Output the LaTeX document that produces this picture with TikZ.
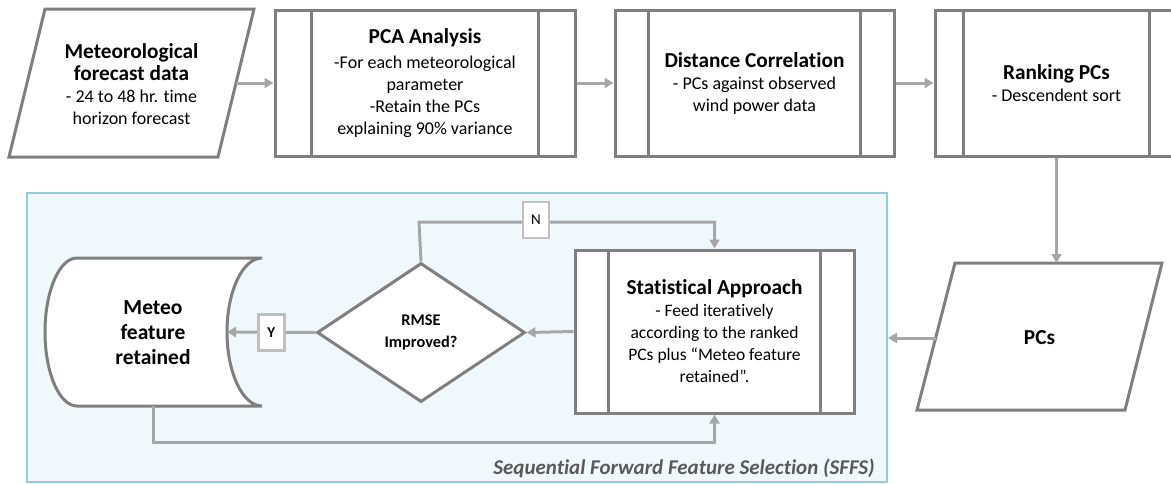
\documentclass[tikz,border=0pt]{standalone}
\usepackage{fontspec}
\setmainfont{Carlito}[Ligatures=NoCommon]
\usetikzlibrary{shapes.geometric,arrows.meta}

\definecolor{boxgray}{HTML}{7F7F7F}
\definecolor{linkgray}{HTML}{A6A6A6}
\definecolor{tagedge}{HTML}{BFBFBF}
\definecolor{sffsfill}{HTML}{F1F8FB}
\definecolor{sffsedge}{HTML}{92CDDC}
\definecolor{notegray}{HTML}{595959}

\newcommand{\ttl}[1]{{\bfseries\fontsize{21.3}{26}\selectfont #1}}

\begin{document}
\begin{tikzpicture}[x=1pt, y=-1pt,
  every node/.style={font=\fontsize{18}{22}\selectfont, align=center},
  outline/.style={draw=boxgray, line width=3pt, fill=white},
  proc/.style={outline, minimum height=146pt, inner sep=0pt},
  link/.style={draw=linkgray, line width=3pt, -{Triangle[length=9pt,width=10pt]}},
  tag/.style={draw=tagedge, line width=2.5pt, fill=white, minimum width=26pt, minimum height=36pt,
    inner sep=0pt, font=\fontsize{15}{18}\selectfont}]
\useasboundingbox (0,0) rectangle (1171,483);

% SFFS region
\node[draw=sffsedge, fill=sffsfill, line width=2pt, minimum width=860pt, minimum height=289pt, inner sep=0pt] (sffs) at (457,337.5) {};
\node[anchor=base east, inner sep=0pt, text=notegray, font=\bfseries\itshape\fontsize{21}{24}\selectfont] (cap) at (875,474) {Sequential Forward Feature Selection (SFFS)};

% Top row
\draw[outline] (45,9) -- (254,9) -- (218,157) -- (9,157) -- cycle;
\node (meteo) at (131.5,84) {\ttl{Meteorological}\\ \ttl{forecast data}\\ - 24 to 48 hr. time\\ horizon forecast};
\coordinate (meteoR) at (236,83);
\node[proc, minimum width=300pt] (pca) at (425,83) {\ttl{PCA Analysis}\\[3pt] -For each meteorological\\ parameter\\ -Retain the PCs\\ explaining 90\% variance};
\node[proc, minimum width=279pt] (dc) at (754.5,83) {\ttl{Distance Correlation}\\ - PCs against observed\\ wind power data};
\node[proc, minimum width=243pt] (rank) at (1056.5,83) {\ttl{Ranking PCs}\\ - Descendent sort};

% Bottom row
\draw[outline] (955,263) -- (1162,263) -- (1125,410) -- (917,410) -- cycle;
\node (pcs) at (1039.5,338) {\ttl{PCs}};
\coordinate (pcsL) at (936,338);
\coordinate (pcsT) at (1056.5,263);
\node[proc, minimum width=279pt, minimum height=163pt, font=\fontsize{17.5}{22}\selectfont] (stat) at (714.5,331.5) {\ttl{Statistical Approach}\\ - Feed iteratively\\ according to the ranked\\ PCs plus “Meteo feature\\ retained”.};
\node[outline, diamond, aspect=1.5, minimum width=208pt, minimum height=139pt, inner sep=0pt,
  font=\bfseries\fontsize{16.3}{22}\selectfont] (rmse) at (421,332.5) {RMSE\\ Improved?};

% Stored data shape
\draw[outline] (77,258) -- (262,258) .. controls (242.7,258) and (227,291.2) .. (227,332)
  .. controls (227,372.8) and (242.7,406) .. (262,406) -- (77,406) .. controls (59.3,406) and (45,372.8) .. (45,332)
  .. controls (45,291.2) and (59.3,258) .. cycle;
\node[font=\bfseries\fontsize{21.5}{25}\selectfont] (kept) at (153,333) {Meteo\\ feature\\ retained};
\coordinate (ret) at (227,332);
\coordinate (keptbot) at (153,406);

% Inner bars of the process boxes
\foreach \n/\d in {pca/38, dc/35, rank/30, stat/35} {
  \draw[boxgray, line width=3pt] ([xshift=\d pt]\n.north west) -- ([xshift=\d pt]\n.south west);
  \draw[boxgray, line width=3pt] ([xshift=-\d pt]\n.north east) -- ([xshift=-\d pt]\n.south east);
}

% Connectors
\draw[link] (meteoR) -- (pca.west);
\draw[link] (pca.east) -- (dc.west);
\draw[link] (dc.east) -- (rank.west);
\draw[link] (rank.south) -- (pcsT);
\draw[link] (pcsL) -- (pcsL -| sffs.east);
\draw[link] (stat.west) -- (rmse.east);
\draw[link] (rmse.west) -- node[tag, font=\bfseries\fontsize{15}{18}\selectfont] (ytag) {Y} (ret);
\coordinate (nbend) at (419,222);
\draw[link] (rmse.north) -- (nbend) -| (stat.north);
\node[tag] (ntag) at (536,220) {N};
\coordinate (fbend) at (153,442);
\draw[link] (keptbot) -- (fbend) -| (stat.south);
\end{tikzpicture}
\end{document}
